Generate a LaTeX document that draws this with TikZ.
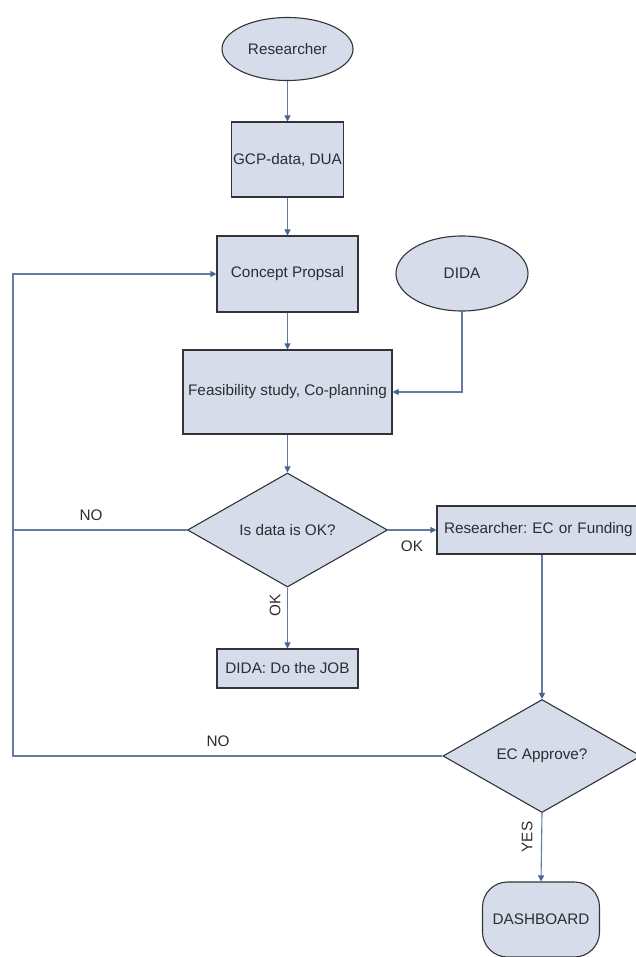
\documentclass[tikz,border=0pt]{standalone}
\usepackage{fontspec}
\setmainfont{Liberation Sans}
\frenchspacing
\usetikzlibrary{shapes.geometric,arrows.meta}
\definecolor{boxfill}{RGB}{214,220,234}
\definecolor{boxline}{RGB}{50,52,58}
\definecolor{conn}{RGB}{100,124,160}
\definecolor{arrowc}{RGB}{72,100,145}
\definecolor{txt}{RGB}{45,45,50}
\tikzset{
  base/.style={draw=boxline, fill=boxfill, line width=1.1pt, inner sep=0pt, text=txt,
    font=\fontsize{15.3}{18}\selectfont},
  procbox/.style={base, rectangle},
  oval/.style={base, ellipse},
  decision/.style={base, diamond, aspect=1.75},
  endbox/.style={base, rectangle, rounded corners=25pt},
  conline/.style={draw=conn, line width=1.1pt},
  arr/.style={conline, -{Triangle[length=6pt,width=6pt,color=arrowc]}},
  lbl/.style={text=txt, font=\fontsize{15.3}{18}\selectfont, inner sep=0pt}
}
\begin{document}
\begin{tikzpicture}[x=1pt,y=-1pt]
\useasboundingbox (0,0) rectangle (636,957);
\fill[white] (0,0) rectangle (636,957);

\node[oval, minimum width=131pt, minimum height=63pt] (res) at (287.5,49) {Researcher};
\node[procbox, minimum width=112pt, minimum height=75pt] (gcp) at (287.5,159.5) {GCP-data, DUA};
\node[procbox, minimum width=141pt, minimum height=76pt] (con) at (287.5,274) {Concept Propsal};
\node[oval, minimum width=132pt, minimum height=75pt] (dida) at (462,273.5) {DIDA};
\node[procbox, minimum width=209pt, minimum height=84pt] (feas) at (287.5,392) {Feasibility study, Co-planning};
\node[decision, minimum width=200pt, minimum height=114pt] (d1) at (287.5,530) {Is data is OK?};
\node[procbox, minimum width=210pt, minimum height=48pt, text width=196pt, align=left] (rec) at (542,530) {Researcher: EC or Funding};
\node[procbox, minimum width=141pt, minimum height=39pt] (job) at (287.5,668.5) {DIDA: Do the JOB};
\node[decision, minimum width=198pt, minimum height=113pt] (d2) at (542,756) {EC Approve?};
\node[endbox, minimum width=117pt, minimum height=75pt] (dash) at (541,919.5) {DASHBOARD};

\coordinate (ltop) at (13,274);
\coordinate (lmid) at (13,530);
\coordinate (lbot) at (13,756);

\draw[arr] (res.south) -- (gcp.north);
\draw[arr] (gcp.south) -- (con.north);
\draw[arr] (con.south) -- (feas.north);
\draw[arr] (dida.south) |- (feas.east);
\draw[arr] (feas.south) -- (d1.north);
\draw[arr] (d1.east) -- (rec.west);
\draw[arr] (d1.south) -- (job.north);
\draw[arr] (rec.south) -- (d2.north);
\draw[arr] (d2.south) -- (dash.north);
\draw[conline] (d1.west) -- (lmid);
\draw[arr] (d2.west) -- (lbot) -- (ltop) -- (con.west);

\node[lbl] (no1) at (91,515) {NO};
\node[lbl] (ok1) at (412,546) {OK};
\node[lbl, rotate=90] (ok2) at (275,605) {OK};
\node[lbl] (no2) at (218,741) {NO};
\node[lbl, rotate=90] (yes) at (527,837) {YES};
\end{tikzpicture}
\end{document}
